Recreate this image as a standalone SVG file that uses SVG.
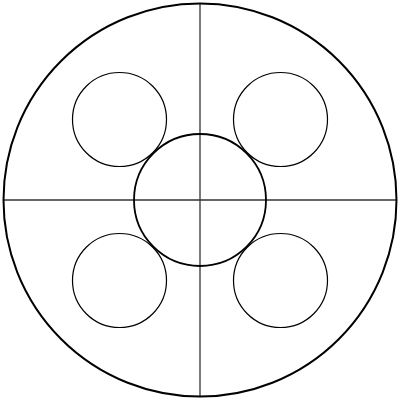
<svg xmlns="http://www.w3.org/2000/svg" width="400" height="400" viewBox="0 0 400 400">
<style>
.outer{fill:none;stroke:#000;stroke-width:2}
.hub{fill:none;stroke:#000;stroke-width:1.8}
.small{fill:none;stroke:#000;stroke-width:1.2}
.axis{stroke:#333;stroke-width:1.3}
</style>
<rect width="400" height="400" fill="#fff"/>
<g id="connectors">
<line class="axis" x1="200" y1="3.5" x2="200" y2="396.5"/>
<line class="axis" x1="3.5" y1="200" x2="396.5" y2="200"/>
</g>
<g id="outer"><circle class="outer" cx="200" cy="200" r="196.5"/></g>
<g id="hub"><circle class="hub" cx="200" cy="200" r="66"/></g>
<g id="tl"><circle class="small" cx="119.5" cy="119.5" r="47"/></g>
<g id="tr"><circle class="small" cx="280.5" cy="119.5" r="47"/></g>
<g id="bl"><circle class="small" cx="119.5" cy="280.5" r="47"/></g>
<g id="br"><circle class="small" cx="280.5" cy="280.5" r="47"/></g>
</svg>
